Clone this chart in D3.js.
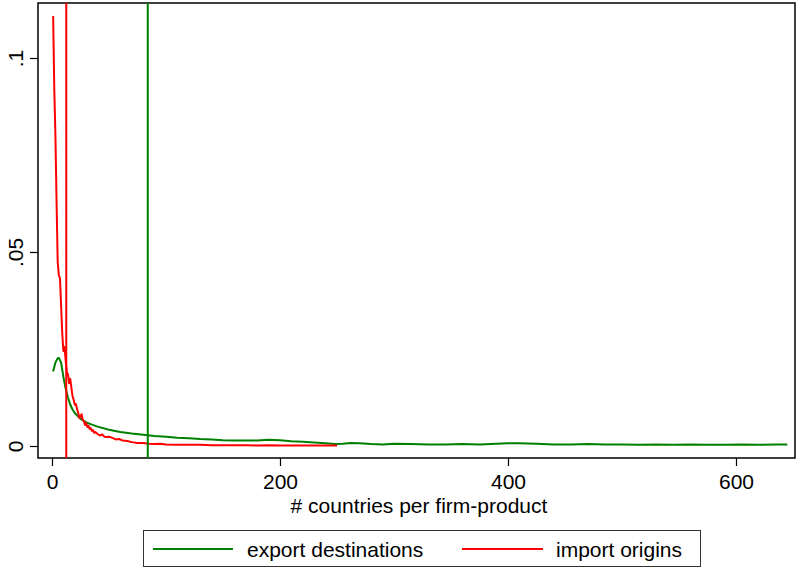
<!DOCTYPE html>
<html>
<head>
<meta charset="utf-8">
<script src="https://cdn.jsdelivr.net/npm/d3@7"></script>
<style>
  html, body { margin: 0; padding: 0; background: #fff; }
  svg { display: block; font-family: "Liberation Sans", Arial, sans-serif; }
</style>
</head>
<body>
<svg id="chart" width="801" height="569"></svg>
<script>
// Density of the number of countries per firm-product
const exportX = [1, 3, 5, 6, 8, 10, 12, 14, 16, 18, 20, 25, 30, 35, 40, 50, 60, 70, 80, 90,
  100, 110, 120, 130, 140, 150, 160, 170, 180, 190, 200, 210, 220, 230, 240, 248, 255, 262,
  270, 280, 290, 300, 315, 330, 345, 360, 375, 390, 400, 410, 425, 440, 455, 470, 485, 500,
  515, 530, 545, 560, 575, 590, 605, 620, 635, 645];
const exportY = [0.0192, 0.0215, 0.0226, 0.0227, 0.0215, 0.0178, 0.0148, 0.0125, 0.0107,
  0.0094, 0.0085, 0.0070, 0.0061, 0.0055, 0.0050, 0.0042, 0.0036, 0.0032, 0.0029, 0.0026,
  0.0024, 0.0021, 0.0020, 0.0018, 0.0017, 0.0015, 0.0014, 0.0014, 0.0014, 0.0016, 0.0015,
  0.0012, 0.0011, 0.0009, 0.0007, 0.0005, 0.0006, 0.0008, 0.0007, 0.0005, 0.0004, 0.0006,
  0.0005, 0.0004, 0.0004, 0.0005, 0.0004, 0.0006, 0.0007, 0.0007, 0.0006, 0.0004, 0.0004,
  0.0005, 0.0004, 0.0004, 0.0003, 0.0004, 0.0003, 0.0004, 0.0003, 0.0003, 0.0004, 0.0003,
  0.0004, 0.0004];

const importX = [1, 2, 3, 4, 5, 6, 7, 8, 9, 10, 11, 12, 13, 14, 15, 16, 17, 18, 19, 20, 21,
  22, 23, 24, 25, 26, 27, 28, 29, 30, 31, 32, 33, 34, 35, 36, 37, 38, 40, 42, 44, 46, 48, 50,
  53, 56, 59, 62, 66, 70, 75, 80, 85, 90, 95, 100, 110, 120, 130, 140, 150, 160, 170, 180,
  190, 200, 210, 220, 230, 240, 250];
const importY = [0.1108, 0.0920, 0.0800, 0.0630, 0.0474, 0.0440, 0.0432, 0.0360, 0.0290,
  0.0245, 0.0255, 0.0220, 0.0190, 0.0185, 0.0162, 0.0173, 0.0150, 0.0129, 0.0119, 0.0106,
  0.0108, 0.0095, 0.0085, 0.0072, 0.0077, 0.0082, 0.0067, 0.0064, 0.0054, 0.0059, 0.0049,
  0.0052, 0.0044, 0.0046, 0.0039, 0.0041, 0.0034, 0.0036, 0.0031, 0.0027, 0.0030, 0.0024,
  0.0023, 0.0024, 0.0021, 0.0017, 0.0018, 0.0014, 0.0013, 0.0010, 0.0008, 0.0008, 0.0006,
  0.0005, 0.0006, 0.0004, 0.0003, 0.0003, 0.0003, 0.0002, 0.0002, 0.0002, 0.0002, 0.00015,
  0.0002, 0.0001, 0.0001, 0.0001, 0.0001, 0.0001, 0.0001];

// Reference lines (averages) for each series
const exportMean = 84;
const importMean = 12.5;

const xTicks = [0, 200, 400, 600];
const yTicks = [0, 0.05, 0.1];
const yTickLabels = ["0", ".05", ".1"];
const seriesNames = ["export destinations", "import origins"];
const seriesColors = ["#008000", "#ff0000"];

const svg = d3.select("#chart");
const frame = { left: 38, right: 795, top: 3, bottom: 458 };

const x = d3.scaleLinear().domain([0, 600]).range([52, 736]);
const y = d3.scaleLinear().domain([0, 0.1]).range([446, 58]);

const fontSize = 21;

// Plot frame
svg.append("rect")
  .attr("x", frame.left).attr("y", frame.top)
  .attr("width", frame.right - frame.left).attr("height", frame.bottom - frame.top)
  .attr("fill", "#fff").attr("stroke", "#000").attr("stroke-width", 1.5);

// Axes
const xAxis = d3.axisBottom(x).tickValues(xTicks).tickSize(8).tickPadding(8)
  .tickFormat(d3.format("d"));
const gx = svg.append("g").attr("transform", `translate(0,${frame.bottom})`).call(xAxis);
gx.select(".domain").remove();
gx.selectAll(".tick line").attr("stroke", "#000").attr("stroke-width", 1.2);
gx.selectAll(".tick text").attr("font-size", fontSize).attr("fill", "#000")
  .attr("font-family", "Liberation Sans, Arial, sans-serif");

const yAxis = d3.axisLeft(y).tickValues(yTicks).tickSize(8)
  .tickFormat((d, i) => yTickLabels[i]);
const gy = svg.append("g").attr("transform", `translate(${frame.left},0)`).call(yAxis);
gy.select(".domain").remove();
gy.selectAll(".tick line").attr("stroke", "#000").attr("stroke-width", 1.2);
gy.selectAll(".tick text")
  .attr("font-size", fontSize).attr("fill", "#000")
  .attr("font-family", "Liberation Sans, Arial, sans-serif")
  .attr("x", null).attr("dy", null)
  .attr("text-anchor", "middle")
  .attr("transform", "translate(-15,0) rotate(-90)");

// Axis title
svg.append("text")
  .attr("x", 419).attr("y", 513)
  .attr("text-anchor", "middle").attr("font-size", fontSize).attr("fill", "#000")
  .text("# countries per firm-product");

// Series lines
const line = d3.line().x(d => x(d[0])).y(d => y(d[1]));
const exportData = exportX.map((v, i) => [v, exportY[i]]);
const importData = importX.map((v, i) => [v, importY[i]]);

svg.append("path").datum(exportData)
  .attr("d", line).attr("fill", "none")
  .attr("stroke", seriesColors[0]).attr("stroke-width", 2).attr("stroke-linejoin", "round");

svg.append("path").datum(importData)
  .attr("d", line).attr("fill", "none")
  .attr("stroke", seriesColors[1]).attr("stroke-width", 2).attr("stroke-linejoin", "round");

// Vertical reference lines
svg.append("line")
  .attr("x1", x(exportMean)).attr("x2", x(exportMean))
  .attr("y1", frame.top).attr("y2", frame.bottom)
  .attr("stroke", seriesColors[0]).attr("stroke-width", 2);
svg.append("line")
  .attr("x1", x(importMean)).attr("x2", x(importMean))
  .attr("y1", frame.top).attr("y2", frame.bottom)
  .attr("stroke", seriesColors[1]).attr("stroke-width", 2);

// Legend
const legend = svg.append("g");
legend.append("rect")
  .attr("x", 143.5).attr("y", 530.5).attr("width", 557).attr("height", 36)
  .attr("fill", "#fff").attr("stroke", "#333").attr("stroke-width", 1);
const legendItems = [
  { x0: 153, x1: 233, tx: 247 },
  { x0: 462, x1: 543, tx: 556 }
];
legendItems.forEach((it, i) => {
  legend.append("line")
    .attr("x1", it.x0).attr("x2", it.x1).attr("y1", 549).attr("y2", 549)
    .attr("stroke", seriesColors[i]).attr("stroke-width", 2);
  legend.append("text")
    .attr("x", it.tx).attr("y", 556.5)
    .attr("font-size", fontSize).attr("fill", "#000")
    .text(seriesNames[i]);
});
</script>
</body>
</html>
